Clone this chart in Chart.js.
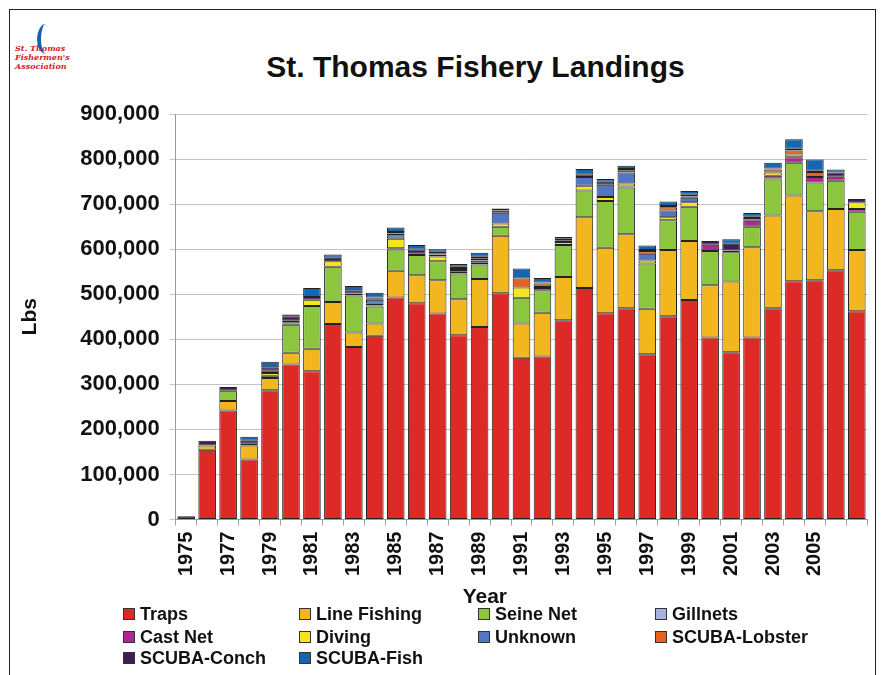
<!DOCTYPE html>
<html>
<head>
<meta charset="utf-8">
<title>St. Thomas Fishery Landings</title>
<script src="https://cdn.jsdelivr.net/npm/chart.js@4.4.1/dist/chart.umd.min.js"></script>
<style>
  html, body { margin: 0; padding: 0; background: #fff; }
  body { width: 887px; height: 675px; position: relative; overflow: hidden;
         font-family: "Liberation Sans", Arial, sans-serif; }
  #chart { position: absolute; left: 0; top: 0; }
  .frame { position: absolute; left: 9px; top: 9px; width: 867px; height: 700px;
           border: 1px solid #222; box-sizing: border-box; }
  .title { position: absolute; left: 0; top: 50px; width: 951px; text-align: center;
           font-weight: bold; font-size: 30px; color: #111; }
  .logo { position: absolute; left: 15px; top: 44px; width: 60px; font-size: 8px; line-height: 9px;
          font-weight: bold; font-style: italic; color: #d2232a; font-family: "DejaVu Serif", serif; }
  .logo .fin { position: absolute; left: 22px; top: -20px; width: 14px; height: 30px;
               border-left: 4px solid #1e5fa8; border-radius: 60% 0 0 60%; }
  .legend { position: absolute; left: 0; top: 0; }
  .legend .item { position: absolute; height: 20px; display: flex; align-items: center;
                  font-size: 18px; font-weight: bold; color: #111; white-space: nowrap; }
  .legend .box { width: 10px; height: 10px; border: 1px solid #333; margin-right: 5px; }
</style>
</head>
<body>
<div class="frame"></div>
<div class="logo"><div class="fin"></div>St. Thomas<br>Fishermen's<br>Association</div>
<div class="title">St. Thomas Fishery Landings</div>
<canvas id="chart" width="887" height="675"></canvas>
<div class="legend" id="legend"></div>
<script>
  // ===========================================================================
  // DATA (lbs)
  // ===========================================================================

  const years = [
    '1975', '1976', '1977', '1978', '1979', '1980', '1981', '1982', '1983', '1984', '1985',
    '1986', '1987', '1988', '1989', '1990', '1991', '1992', '1993', '1994', '1995', '1996',
    '1997', '1998', '1999', '2000', '2001', '2002', '2003', '2004', '2005', '2006', '2007'
  ];

  // years that carry a printed tick label
  const labelledYears = [
    '1975', '1977', '1979', '1981', '1983', '1985', '1987', '1989',
    '1991', '1993', '1995', '1997', '1999', '2001', '2003', '2005'
  ];

  const traps = [
    0, 155000, 242000, 133000, 287000, 344000, 329000, 434000, 383000, 408000, 493000,
    480000, 457000, 409000, 427000, 502000, 359000, 362000, 442000, 514000, 458000, 469000,
    367000, 451000, 487000, 404000, 371000, 404000, 469000, 529000, 531000, 553000, 462000
  ];
  const lineFishing = [
    0, 9000, 21000, 31000, 27000, 26000, 50000, 49000, 32000, 27000, 59000,
    62000, 74000, 80000, 107000, 128000, 76000, 97000, 96000, 157000, 145000, 164000,
    101000, 147000, 131000, 116000, 157000, 200000, 206000, 190000, 153000, 136000, 136000
  ];
  const seineNet = [
    0, 0, 23000, 4000, 5000, 62000, 95000, 78000, 82000, 38000, 47000,
    45000, 42000, 57000, 32000, 20000, 57000, 50000, 71000, 59000, 104000, 104000,
    100000, 66000, 76000, 76000, 65000, 46000, 82000, 73000, 64000, 63000, 85000
  ];
  const gillnets = [
    0, 0, 0, 0, 0, 0, 0, 0, 0, 2000, 3000,
    0, 0, 0, 0, 0, 0, 0, 0, 0, 0, 2000,
    0, 0, 0, 0, 0, 0, 0, 0, 0, 0, 0
  ];
  const castNet = [
    0, 0, 0, 0, 0, 0, 0, 0, 0, 0, 0,
    0, 0, 0, 0, 0, 0, 0, 0, 0, 0, 0,
    0, 0, 0, 14000, 4000, 13000, 6000, 12000, 12000, 9000, 6000
  ];
  const diving = [
    0, 0, 0, 0, 6000, 3000, 14000, 12000, 4500, 4000, 21000,
    3000, 11000, 4000, 4000, 7000, 23000, 5000, 7000, 11000, 9000, 7000,
    7000, 7000, 10000, 0, 0, 0, 7000, 6000, 0, 0, 15000
  ];
  const unknown = [
    0, 0, 0, 0, 0, 3000, 0, 0, 0, 9000, 8000,
    0, 4000, 4000, 5000, 24000, 0, 2000, 2000, 19000, 27000, 24000,
    15000, 15000, 10000, 0, 0, 0, 0, 0, 0, 0, 0
  ];
  const scubaLobster = [
    0, 0, 0, 0, 5000, 4000, 0, 0, 0, 3000, 4000,
    0, 3000, 4000, 4000, 0, 20000, 8000, 2000, 5000, 0, 5000,
    6000, 7000, 3000, 0, 0, 6000, 7000, 9000, 11000, 0, 0
  ];
  const scubaConch = [
    7000, 11000, 8000, 7000, 8000, 8000, 6000, 8000, 7500, 2000, 3000,
    9000, 3000, 3000, 4000, 5000, 0, 2000, 4000, 0, 6600, 3000,
    2000, 3000, 4000, 8000, 15000, 3000, 2000, 4000, 3000, 9000, 7500
  ];
  const scubaFish = [
    0, 0, 0, 8500, 12000, 5000, 20000, 7000, 9000, 10000, 10000,
    10000, 6000, 6000, 9000, 4000, 22000, 10000, 3000, 13000, 6000, 7000,
    10000, 10000, 8000, 0, 10000, 8000, 13000, 21000, 25000, 7000, 0
  ];

  const yTicks = [0, 100000, 200000, 300000, 400000, 500000, 600000, 700000, 800000, 900000];

  const series = [
    { label: 'Traps', data: traps, color: '#de2a27' },
    { label: 'Line Fishing', data: lineFishing, color: '#f2b71f' },
    { label: 'Seine Net', data: seineNet, color: '#8cc63f' },
    { label: 'Gillnets', data: gillnets, color: '#a9b1e0' },
    { label: 'Cast Net', data: castNet, color: '#b0288f' },
    { label: 'Diving', data: diving, color: '#f5e51e' },
    { label: 'Unknown', data: unknown, color: '#5177c2' },
    { label: 'SCUBA-Lobster', data: scubaLobster, color: '#e8621e' },
    { label: 'SCUBA-Conch', data: scubaConch, color: '#3e1d52' },
    { label: 'SCUBA-Fish', data: scubaFish, color: '#1566b2' }
  ];

  // legend grid columns / rows (left edge of swatch, row centre)
  const legendCols = [123, 299, 478, 655];
  const legendRows = [614, 637, 658];

  // ===========================================================================
  // CHART
  // ===========================================================================

  const FONT = '"Liberation Sans", Arial, sans-serif';

  // draws the "Year" axis title a bit left of centre, as in the original
  const yearTitle = {
    id: 'yearTitle',
    afterDraw(chart) {
      const x = chart.scales.x;
      const ctx = chart.ctx;
      ctx.save();
      ctx.font = 'bold 21px ' + FONT;
      ctx.fillStyle = '#111';
      ctx.textAlign = 'center';
      ctx.textBaseline = 'middle';
      ctx.fillText('Year', x.left + x.width * 0.447, x.bottom + 15);
      ctx.restore();
    }
  };

  const chart = new Chart(document.getElementById('chart'), {
    type: 'bar',
    data: {
      labels: years,
      datasets: series.map(s => ({
        label: s.label,
        data: s.data,
        backgroundColor: s.color,
        borderColor: '#222',
        borderWidth: 1,
        borderSkipped: false,
        barPercentage: 0.84,
        categoryPercentage: 1
      }))
    },
    options: {
      responsive: false,
      animation: false,
      devicePixelRatio: 1,
      layout: { padding: { left: 10, right: 12, top: 114, bottom: 93 } },
      plugins: {
        legend: { display: false },
        title: { display: false },
        tooltip: { enabled: false }
      },
      scales: {
        x: {
          stacked: true,
          grid: { display: true, drawOnChartArea: false, offset: true, tickLength: 6, color: '#a0a0a0' },
          border: { color: '#9a9a9a', width: 1 },
          ticks: {
            autoSkip: false,
            maxRotation: 90,
            minRotation: 90,
            padding: 6,
            color: '#111',
            font: { family: FONT, size: 20, weight: 'bold' },
            callback: function (val) {
              const y = this.getLabelForValue(val);
              return labelledYears.includes(y) ? y : '';
            }
          }
        },
        y: {
          stacked: true,
          min: 0,
          max: 900000,
          afterBuildTicks: axis => { axis.ticks = yTicks.map(v => ({ value: v })); },
          grid: { color: '#c4c4c4', lineWidth: 1, tickLength: 6 },
          border: { color: '#9a9a9a', width: 1 },
          ticks: {
            padding: 10,
            color: '#111',
            font: { family: FONT, size: 22, weight: 'bold' },
            callback: v => v.toLocaleString('en-US')
          },
          title: {
            display: true,
            text: 'Lbs',
            color: '#111',
            font: { family: FONT, size: 21, weight: 'bold' },
            padding: { top: 8, bottom: 27 }
          }
        }
      }
    },
    plugins: [yearTitle]
  });

  // ===========================================================================
  // LEGEND (grid of 4 columns, as in the original)
  // ===========================================================================

  const legendEl = document.getElementById('legend');
  chart.data.datasets.forEach((ds, i) => {
    const item = document.createElement('div');
    item.className = 'item';
    item.style.left = legendCols[i % 4] + 'px';
    item.style.top = (legendRows[Math.floor(i / 4)] - 10) + 'px';
    const box = document.createElement('span');
    box.className = 'box';
    box.style.background = ds.backgroundColor;
    item.appendChild(box);
    item.appendChild(document.createTextNode(ds.label));
    legendEl.appendChild(item);
  });
</script>
</body>
</html>
